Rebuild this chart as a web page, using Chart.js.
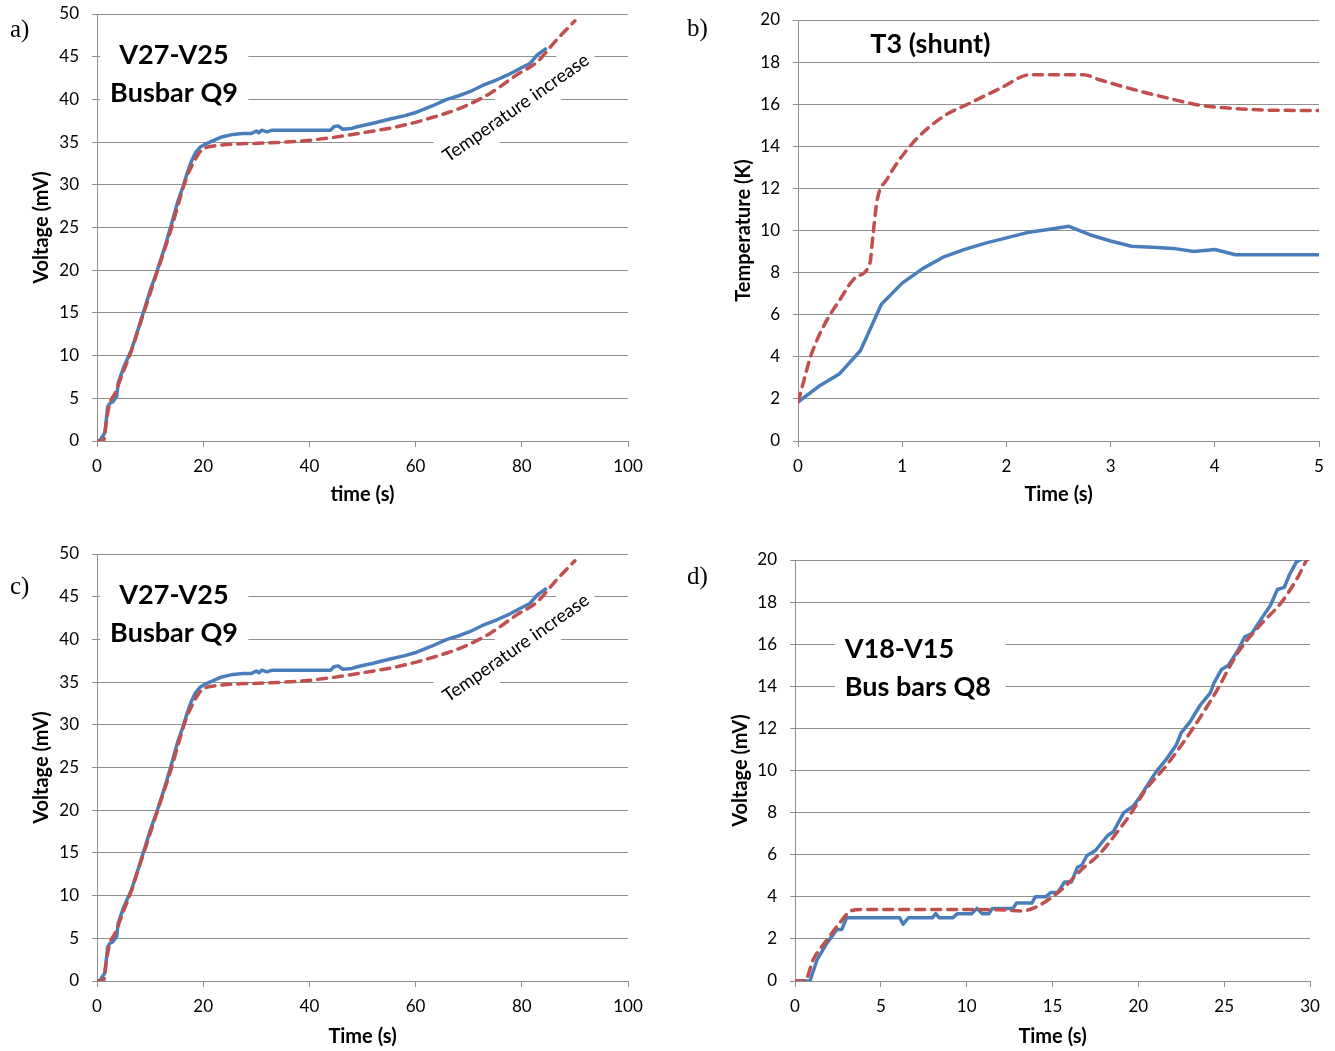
<!DOCTYPE html>
<html>
<head>
<meta charset="utf-8">
<script src="https://cdn.jsdelivr.net/npm/chart.js@4.4.1/dist/chart.umd.min.js"></script>
<style>
  html, body { margin: 0; padding: 0; background: #fff; overflow: hidden; }
  .panel { position: absolute; }
</style>
</head>
<body>
<div class="panel" style="left:0;top:0"><canvas id="chart_a" width="667" height="525"></canvas></div>
<div class="panel" style="left:667px;top:0"><canvas id="chart_b" width="668" height="525"></canvas></div>
<div class="panel" style="left:0;top:525px"><canvas id="chart_c" width="667" height="526"></canvas></div>
<div class="panel" style="left:667px;top:525px"><canvas id="chart_d" width="668" height="526"></canvas></div>
<script>
// Busbar Q9 voltage, V27-V25 (panels a and c)
const busbarTimeMeas = [0, 0.6, 1.5, 2.0, 2.4, 3.0, 3.7, 4.0, 5.0, 6.5, 7.5, 8.7, 10.0, 11.2, 12.2, 13.1, 14.2, 15.2, 16.2, 17.0,
    17.8, 18.5, 19.4, 20.5, 22.0, 23.5, 25.6, 27.5, 29.0, 30.0, 30.5, 31.0, 32.0, 33.0, 36.0, 40.0, 44.0, 44.6, 45.4, 46.3,
    48.0, 49.0, 52.0, 55.2, 58.0, 60.2, 63.0, 65.9, 68.0, 70.2, 72.5, 75.3, 77.8, 80.2, 81.5, 82.9, 84.7];
const busbarVoltMeas = [0, 0.1, 1.0, 4.0, 4.4, 4.6, 5.2, 6.8, 8.6, 10.7, 12.6, 15.0, 17.6, 19.7, 21.6, 23.4, 25.8, 28.0, 29.8, 31.4,
    32.8, 33.7, 34.4, 34.8, 35.2, 35.6, 35.9, 36.0, 36.0, 36.3, 36.1, 36.4, 36.2, 36.4, 36.4, 36.4, 36.4, 36.8, 36.9, 36.5,
    36.6, 36.8, 37.2, 37.7, 38.1, 38.5, 39.2, 40.0, 40.4, 40.9, 41.6, 42.3, 43.0, 43.8, 44.2, 45.2, 46.0];
const busbarTimeSim = [0, 1.2, 1.8, 2.4, 3.4, 5.0, 6.5, 8.0, 9.5, 11.0, 12.5, 14.0, 15.2, 16.9, 18.0, 18.8, 19.6, 20.7, 22.0, 24.0,
    27.0, 32.0, 38.0, 43.9, 50.1, 56.5, 62.7, 68.9, 74.0, 79.1, 82.9, 86.6, 90.0];
const busbarVoltSim = [0, 0, 2.5, 4.4, 5.6, 8.2, 10.6, 13.5, 16.3, 19.2, 22.0, 24.9, 27.5, 30.9, 32.4, 33.3, 34.0, 34.4, 34.55, 34.7,
    34.8, 34.9, 35.1, 35.5, 36.1, 36.8, 37.8, 39.1, 40.7, 42.9, 44.4, 47.0, 49.2];

// T3 shunt temperature (panel b)
const shuntTimeMeas = [0, 0.2, 0.4, 0.6, 0.8, 1.0, 1.2, 1.4, 1.6, 1.8, 2.0, 2.2, 2.4, 2.6, 2.8, 3.0, 3.2, 3.4, 3.6, 3.8, 4.0, 4.2, 4.4, 4.6, 4.8, 5.0];
const shuntTempMeas = [1.85, 2.6, 3.2, 4.3, 6.5, 7.5, 8.2, 8.75, 9.1, 9.4, 9.65, 9.9, 10.05, 10.2, 9.8, 9.5, 9.25, 9.2, 9.15, 9.0, 9.1, 8.85, 8.85, 8.85, 8.85, 8.85];
const shuntTimeSim = [0, 0.05, 0.12, 0.24, 0.4, 0.56, 0.69, 0.72, 0.76, 0.85, 1.1, 1.39, 1.65, 1.94, 2.23, 2.4, 2.6, 2.74, 2.9, 3.22, 3.54, 3.86, 4.18, 4.5, 5.0];
const shuntTempSim = [1.85, 2.75, 4.0, 5.4, 6.7, 7.8, 8.45, 9.8, 11.45, 12.4, 14.15, 15.4, 16.05, 16.75, 17.4, 17.4, 17.4, 17.4, 17.15, 16.7, 16.3, 15.95, 15.8, 15.72, 15.7];

// Bus bars Q8 voltage, V18-V15 (panel d)
const busQ8TimeMeas = [0, 0.87, 1.28, 1.86, 2.44, 2.73, 3.0, 6.1, 6.3, 6.6, 8.0, 8.2, 8.4, 9.2, 9.45, 10.3, 10.6, 10.9, 11.3, 11.5,
    12.7, 12.9, 13.8, 14.0, 14.6, 14.9, 15.3, 15.7, 16.1, 16.45, 16.7, 17.0, 17.5, 18.2, 18.55, 19.15, 19.7, 20.1, 21.0, 21.6,
    22.2, 22.5, 23.0, 23.6, 24.2, 24.4, 24.85, 25.25, 25.8, 26.2, 26.6, 27.2, 27.7, 28.1, 28.5, 28.8, 29.2, 29.5];
const busQ8VoltMeas = [0, 0, 1.0, 1.8, 2.45, 2.45, 3.0, 3.0, 2.7, 3.0, 3.0, 3.2, 3.0, 3.0, 3.2, 3.2, 3.45, 3.2, 3.2, 3.45,
    3.45, 3.7, 3.7, 4.0, 4.0, 4.2, 4.2, 4.7, 4.7, 5.4, 5.5, 5.95, 6.2, 6.9, 7.1, 8.0, 8.3, 8.75, 9.9, 10.5,
    11.2, 11.8, 12.3, 13.1, 13.7, 14.15, 14.8, 15.0, 15.7, 16.35, 16.5, 17.25, 17.85, 18.6, 18.7, 19.3, 19.9, 20.05];
const busQ8TimeSim = [0, 0.58, 1.05, 1.86, 2.6, 3.3, 4.0, 8.0, 11.9, 13.2, 14.0, 15.0, 15.8, 16.7, 17.7, 18.7, 19.6, 20.4, 21.6, 23.1, 24.5, 25.8, 27.2, 28.3, 29.3, 29.8];
const busQ8VoltSim = [0, 0, 1.0, 1.95, 2.75, 3.35, 3.4, 3.4, 3.38, 3.33, 3.5, 4.0, 4.55, 5.3, 6.0, 7.0, 8.0, 9.05, 10.2, 11.9, 13.7, 15.6, 17.0, 17.95, 19.2, 20.0];

const BLUE = '#4a7ebb';
const RED = '#c0504d';
const GRID = '#8f8f8f';
const FONT = 'Lato, "Open Sans", sans-serif';

function toPoints(xs, ys) {
    return xs.map((x, i) => ({ x: x, y: ys[i] }));
}

function measured(xs, ys) {
    return {
        data: toPoints(xs, ys),
        borderColor: BLUE,
        borderWidth: 3.5,
        pointRadius: 0,
        tension: 0,
        borderJoinStyle: 'round'
    };
}

function simulated(xs, ys) {
    return {
        data: toPoints(xs, ys),
        borderColor: RED,
        borderWidth: 3.5,
        borderDash: [9, 7],
        borderCapStyle: 'round',
        pointRadius: 0,
        cubicInterpolationMode: 'monotone'
    };
}

// White-backed text boxes, rotated labels and the panel letter
const notesPlugin = {
    id: 'notes',
    beforeDatasetsDraw(chart, args, opts) {
        const { ctx } = chart;
        const sx = chart.scales.x, sy = chart.scales.y;
        ctx.save();
        (opts.boxes || []).forEach(b => {
            const x0 = sx.getPixelForValue(b.x0), x1 = sx.getPixelForValue(b.x1);
            const y0 = sy.getPixelForValue(b.y0), y1 = sy.getPixelForValue(b.y1);
            ctx.fillStyle = '#fff';
            ctx.fillRect(x0, y1, x1 - x0, y0 - y1);
        });
        (opts.texts || []).forEach(t => {
            const px = sx.getPixelForValue(t.x), py = sy.getPixelForValue(t.y);
            ctx.save();
            ctx.translate(px, py);
            ctx.rotate((t.angle || 0) * Math.PI / 180);
            ctx.font = (t.bold ? 'bold ' : '') + t.size + 'px ' + FONT;
            if (t.backing) {
                const w = ctx.measureText(t.text).width + 14;
                ctx.fillStyle = '#fff';
                ctx.fillRect(-w / 2, -t.backing / 2, w, t.backing);
            }
            ctx.fillStyle = '#000';
            ctx.textAlign = t.align || 'center';
            ctx.textBaseline = 'middle';
            ctx.fillText(t.text, 0, 0);
            ctx.restore();
        });
        ctx.restore();
    },
    afterDraw(chart, args, opts) {
        if (!opts.label) return;
        const { ctx } = chart;
        ctx.save();
        ctx.font = '25px "Liberation Serif", "DejaVu Serif", serif';
        ctx.fillStyle = '#000';
        ctx.textAlign = 'left';
        ctx.textBaseline = 'middle';
        ctx.fillText(opts.label.text, opts.label.x, opts.label.y);
        ctx.restore();
    }
};

function makePanel(id, cfg) {
    const canvas = document.getElementById(id);
    const W = canvas.width, H = canvas.height;
    return new Chart(canvas.getContext('2d'), {
        type: 'line',
        data: { datasets: cfg.datasets },
        options: {
            responsive: false,
            animation: false,
            events: [],
            layout: { padding: { left: 0, top: cfg.area.top, right: W - cfg.area.right, bottom: 0 } },
            plugins: {
                legend: { display: false },
                tooltip: { enabled: false },
                notes: cfg.notes
            },
            scales: {
                x: {
                    type: 'linear',
                    min: cfg.xRange[0], max: cfg.xRange[1],
                    afterFit: s => {
                        s.height = H - cfg.area.bottom;
                        s.paddingLeft = 0; s.paddingRight = 0;
                    },
                    afterBuildTicks: s => { s.ticks = cfg.xTicks.map(v => ({ value: v })); },
                    grid: { drawOnChartArea: false, drawTicks: true, tickLength: 6, color: GRID },
                    border: { color: GRID, width: 1 },
                    ticks: { color: '#000', padding: 9, maxRotation: 0, font: { family: FONT, size: 17 } },
                    title: {
                        display: true, text: cfg.xTitle, color: '#000',
                        font: { family: FONT, size: 20, weight: 'bold' },
                        padding: { top: 0, bottom: cfg.xTitlePad }
                    }
                },
                y: {
                    min: cfg.yRange[0], max: cfg.yRange[1],
                    afterFit: s => {
                        s.width = cfg.area.left;
                        s.paddingTop = 0; s.paddingBottom = 0;
                    },
                    afterBuildTicks: s => { s.ticks = cfg.yTicks.map(v => ({ value: v })); },
                    grid: { color: GRID, tickLength: 5, lineWidth: 1 },
                    border: { color: GRID, width: 1 },
                    ticks: { color: '#000', padding: 13, font: { family: FONT, size: 17 } },
                    title: {
                        display: true, text: cfg.yTitle, color: '#000',
                        font: { family: FONT, size: 20, weight: 'bold' },
                        padding: { top: cfg.yTitlePad, bottom: 0 }
                    }
                }
            }
        },
        plugins: [notesPlugin]
    });
}

const busbarTimeTicks = [0, 20, 40, 60, 80, 100];
const busbarVoltTicks = [0, 5, 10, 15, 20, 25, 30, 35, 40, 45, 50];
const shuntTimeTicks = [0, 1, 2, 3, 4, 5];
const shuntTempTicks = [0, 2, 4, 6, 8, 10, 12, 14, 16, 18, 20];
const busQ8TimeTicks = [0, 5, 10, 15, 20, 25, 30];
const busQ8VoltTicks = [0, 2, 4, 6, 8, 10, 12, 14, 16, 18, 20];

function busbarNotes(letter, labelY) {
    return {
        label: { text: letter, x: 10, y: labelY },
        boxes: [{ x0: 0.6, x1: 28.5, y0: 38.2, y1: 48.3 }],
        texts: [
            { text: 'V27-V25', x: 14.5, y: 45.2, size: 27, bold: true },
            { text: 'Busbar Q9', x: 14.5, y: 40.75, size: 27, bold: true },
            { text: 'Temperature increase', x: 78.9, y: 39.0, size: 18.5, angle: -35, backing: 38 }
        ]
    };
}

makePanel('chart_a', {
    area: { left: 97, top: 14, right: 628, bottom: 441 },
    xRange: [0, 100], yRange: [0, 50],
    xTicks: busbarTimeTicks, yTicks: busbarVoltTicks,
    xTitle: 'time (s)', yTitle: 'Voltage (mV)',
    xTitlePad: 18, yTitlePad: 30,
    datasets: [simulated(busbarTimeSim, busbarVoltSim), measured(busbarTimeMeas, busbarVoltMeas)],
    notes: busbarNotes('a)', 30)
});

makePanel('chart_b', {
    area: { left: 131, top: 20, right: 652, bottom: 441 },
    xRange: [0, 5], yRange: [0, 20],
    xTicks: shuntTimeTicks, yTicks: shuntTempTicks,
    xTitle: 'Time (s)', yTitle: 'Temperature (K)',
    xTitlePad: 18, yTitlePad: 65,
    datasets: [simulated(shuntTimeSim, shuntTempSim), measured(shuntTimeMeas, shuntTempMeas)],
    notes: {
        label: { text: 'b)', x: 20, y: 29 },
        texts: [{ text: 'T3 (shunt)', x: 1.27, y: 18.86, size: 27, bold: true }]
    }
});

makePanel('chart_c', {
    area: { left: 97, top: 29, right: 628, bottom: 456 },
    xRange: [0, 100], yRange: [0, 50],
    xTicks: busbarTimeTicks, yTicks: busbarVoltTicks,
    xTitle: 'Time (s)', yTitle: 'Voltage (mV)',
    xTitlePad: 2, yTitlePad: 30,
    datasets: [simulated(busbarTimeSim, busbarVoltSim), measured(busbarTimeMeas, busbarVoltMeas)],
    notes: busbarNotes('c)', 62)
});

makePanel('chart_d', {
    area: { left: 128, top: 35, right: 643, bottom: 456 },
    xRange: [0, 30], yRange: [0, 20],
    xTicks: busQ8TimeTicks, yTicks: busQ8VoltTicks,
    xTitle: 'Time (s)', yTitle: 'Voltage (mV)',
    xTitlePad: 2, yTitlePad: 62,
    datasets: [simulated(busQ8TimeSim, busQ8VoltSim), measured(busQ8TimeMeas, busQ8VoltMeas)],
    notes: {
        label: { text: 'd)', x: 20, y: 52 },
        boxes: [{ x0: 2.33, x1: 12.27, y0: 12.9, y1: 17.1 }],
        texts: [
            { text: 'V18-V15', x: 2.9, y: 15.77, size: 27, bold: true, align: 'left' },
            { text: 'Bus bars Q8', x: 2.9, y: 13.97, size: 27, bold: true, align: 'left' }
        ]
    }
});
</script>
</body>
</html>
